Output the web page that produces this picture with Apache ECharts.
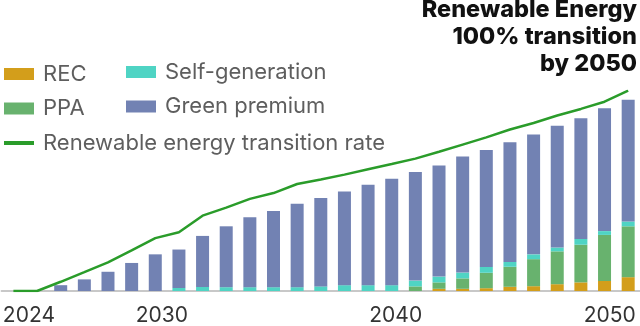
<!DOCTYPE html>
<html>
<head>
<meta charset="utf-8">
<script src="https://cdn.jsdelivr.net/npm/echarts@6/dist/echarts.min.js"></script>
<style>
html,body{margin:0;padding:0;background:#fff;}
#c{width:640px;height:326px;}
</style>
</head>
<body>
<div id="c"></div>
<script>
const years = ['2024','2025','2026','2027','2028','2029','2030','2031','2032','2033','2034','2035','2036','2037','2038','2039','2040','2041','2042','2043','2044','2045','2046','2047','2048','2049','2050'];
const shownYears = ['2024','2030','2040','2050'];
const rec = [0,0,0,0,0,0,0,0,0,0,0,0,0,0,0,0,0,0,1.1,1.1,1.4,2.1,2.4,3.4,4.3,5.0,6.9];
const ppa = [0,0,0,0,0,0,0,0,0,0,0,0,0,0,0,0,0,2.3,3.2,5.2,7.7,10,13.5,16.4,18.8,23,25.4];
const selfGen = [0,0,0,0,0,0,0,1.5,2.0,1.9,1.9,1.9,1.9,2.3,2.9,2.9,2.9,2.9,2.9,2.9,2.9,2.4,2.4,1.9,2.9,1.9,2.4];
const greenPremium = [0,0,2.9,5.8,9.6,14,18.3,19.2,25.5,30.4,34.9,38.1,41.6,44.1,46.8,50.1,53.1,54.2,55.5,57.9,58.4,59.8,59.8,60.8,60.3,61.3,60.8];
const transitionRate = [0,0,4.6,9.4,14.3,20.3,26.4,29.3,37.6,41.6,46,48.9,53.4,55.7,58.1,60.8,63.4,66.1,69.5,73.1,76.7,80.6,83.9,87.6,90.9,94.5,100];

const FONT = 'Inter';
const chart = echarts.init(document.getElementById('c'), null, {renderer:'canvas'});
const legendText = {fontFamily: FONT, fontSize: 22, color: '#5e5e5e', lineHeight: 24, padding: [0,0,0,4]};
const barW = 13;
chart.setOption({
  animation: false,
  title: {
    text: 'Renewable Energy\n100% transition\nby 2050',
    right: 'right', top: -4, padding: [0,3,0,0],
    textStyle: {fontFamily: FONT, fontSize: 23.5, fontWeight: 800, color: '#111', lineHeight: 27, letterSpacing: -0.5}
  },
  legend: [
    {data: ['REC','PPA'], orient: 'vertical', left: 4, top: 62, padding: 0, itemWidth: 30, itemHeight: 12, itemGap: 10.5, icon: 'rect', textStyle: legendText, selectedMode: false},
    {data: ['Self-generation','Green premium'], orient: 'vertical', left: 126, top: 60, padding: 0, itemWidth: 30, itemHeight: 12, itemGap: 10.5, icon: 'rect', textStyle: legendText, selectedMode: false},
    {data: [{name:'Renewable energy transition rate', icon:'rect'}], orient: 'vertical', left: 4, top: 131, padding: 0, itemWidth: 30, itemHeight: 4, textStyle: legendText, selectedMode: false}
  ],
  grid: {left: -1.5, right: -4.5, top: 90.7, bottom: 28, containLabel: false},
  xAxis: {
    type: 'category', data: years, boundaryGap: true,
    axisLine: {show: true, lineStyle: {color: '#c8c8c8', width: 2}},
    axisTick: {show: false},
    axisLabel: {
      interval: function(i, v){ return shownYears.indexOf(v) >= 0; },
      margin: 14,
      fontFamily: FONT, fontSize: 21, color: '#333',
      formatter: function(v){ return '{y' + v + '|' + v + '}'; },
      rich: {
        y2024: {fontFamily: FONT, fontSize: 21, color: '#333', padding: [0,0,0,31]},
        y2030: {fontFamily: FONT, fontSize: 21, color: '#333', padding: [0,0,0,13]},
        y2040: {fontFamily: FONT, fontSize: 21, color: '#333', padding: [0,0,0,8]},
        y2050: {fontFamily: FONT, fontSize: 21, color: '#333', padding: [0,37,0,0]}
      }
    }
  },
  yAxis: {type: 'value', min: 0, max: 100, show: false, splitLine: {show: false}},
  series: [
    {name: 'REC', type: 'bar', stack: 't', data: rec, barWidth: barW, itemStyle: {color: '#d39e1b'}},
    {name: 'PPA', type: 'bar', stack: 't', data: ppa, barWidth: barW, itemStyle: {color: '#68b26e'}},
    {name: 'Self-generation', type: 'bar', stack: 't', data: selfGen, barWidth: barW, itemStyle: {color: '#4fd4c4'}},
    {name: 'Green premium', type: 'bar', stack: 't', data: greenPremium, barWidth: barW, itemStyle: {color: '#7282b3'}},
    {name: 'Renewable energy transition rate', type: 'line', data: transitionRate, showSymbol: false, symbol: 'none', z: 5,
      lineStyle: {color: '#2a9c2a', width: 2.5}, itemStyle: {color: '#2a9c2a'}}
  ]
});
</script>
</body>
</html>
